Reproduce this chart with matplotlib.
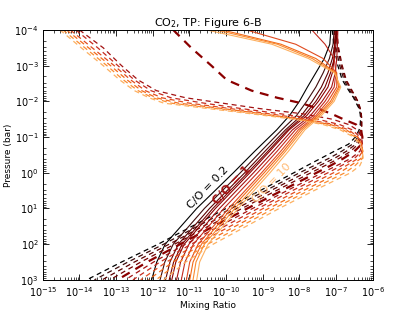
import numpy as np
import matplotlib
matplotlib.use("Agg")
import matplotlib.pyplot as plt
from matplotlib.ticker import LogLocator, NullFormatter

plt.rcParams['font.family'] = ['DejaVu Sans']
plt.rcParams['mathtext.fontset'] = 'dejavusans'

# C/O ratios of the model grid (black -> light orange)
co_ratios = [0.2, 0.4, 0.6, 0.8, 0.9, 1.0, 1.2, 1.5, 2.5, 5.0, 10.0]
colors = ['#000000', '#3d0c0c', '#5c0000', '#730000', '#8b0000', '#a31212',
          '#c42a1e', '#e04a1e', '#f26a1a', '#fa8c30', '#fdb060']

# log10 pressure (bar) grid for solid curves
logp_solid = [-4, -3.6, -3.2, -2.8, -2.4, -2.0, -1.6, -1.2, -0.6, 0, 1, 2, 2.5, 3]
# log10 CO2 mixing ratio, solid curves (one row per C/O)
solid_logx = [
    [-7.14, -7.17, -7.32, -7.55, -7.78, -8.0, -8.27, -8.62, -9.22, -9.8, -10.8, -11.66, -11.89, -12.03],
    [-7.05, -7.08, -7.18, -7.35, -7.55, -7.8, -8.08, -8.48, -9.05, -9.61, -10.59, -11.44, -11.67, -11.80],
    [-7.0, -7.03, -7.1, -7.22, -7.4, -7.65, -7.95, -8.38, -8.94, -9.49, -10.45, -11.30, -11.53, -11.65],
    [-6.97, -7.0, -7.05, -7.15, -7.3, -7.55, -7.87, -8.32, -8.86, -9.41, -10.36, -11.20, -11.43, -11.55],
    [-7.02, -7.04, -7.05, -7.1, -7.22, -7.48, -7.8, -8.28, -8.81, -9.35, -10.29, -11.14, -11.37, -11.48],
    [-6.95, -6.96, -6.98, -7.02, -7.12, -7.38, -7.7, -8.19, -8.71, -9.25, -10.18, -11.01, -11.24, -11.35],
    [-7.66, -7.3, -7.05, -7.0, -7.05, -7.3, -7.62, -8.11, -8.61, -9.14, -10.06, -10.89, -11.12, -11.22],
    [-9.44, -8.1, -7.35, -6.98, -6.98, -7.22, -7.55, -8.03, -8.51, -9.03, -9.93, -10.76, -10.99, -11.08],
    [-10.1, -8.5, -7.55, -7.0, -6.93, -7.15, -7.5, -7.97, -8.44, -8.96, -9.85, -10.67, -10.90, -10.99],
    [-10.27, -8.6, -7.65, -7.02, -6.9, -7.1, -7.45, -7.91, -8.38, -8.88, -9.76, -10.59, -10.82, -10.90],
    [-10.53, -8.75, -7.75, -7.05, -6.87, -7.05, -7.4, -7.85, -8.3, -8.8, -9.67, -10.49, -10.72, -10.8],
]

# log10 pressure (bar) grid for dashed curves
logp_dashed = [-4, -3.5, -3, -2.6, -2.3, -2.1, -1.95, -1.8, -1.65, -1.5, -1.35, -1.2,
               -1.0, -0.8, -0.6, -0.4, -0.2, 0, 0.5, 1, 1.5, 2, 2.5, 3]
dashed_logx = [
    [-7.1, -7.05, -6.95, -6.83, -6.65, -6.52, -6.45, -6.37, -6.34, -6.33, -6.34, -6.37, -6.47, -6.66, -7.05, -7.42, -7.79, -8.15, -9.07, -10.0, -10.93, -11.85, -12.85, -13.8],
    [-7.05, -7.0, -6.9, -6.78, -6.62, -6.5, -6.42, -6.36, -6.33, -6.32, -6.32, -6.33, -6.4, -6.55, -6.85, -7.2, -7.6, -7.995, -8.92, -9.855, -10.78, -11.70, -12.675, -13.59],
    [-7.0, -6.95, -6.86, -6.74, -6.58, -6.46, -6.39, -6.34, -6.31, -6.3, -6.3, -6.3, -6.34, -6.46, -6.72, -7.05, -7.45, -7.84, -8.78, -9.71, -10.63, -11.55, -12.5, -13.38],
    [-6.98, -6.93, -6.83, -6.72, -6.56, -6.45, -6.38, -6.34, -6.31, -6.3, -6.3, -6.3, -6.31, -6.4, -6.6, -6.92, -7.3, -7.685, -8.63, -9.565, -10.49, -11.40, -12.325, -13.17],
    [-11.44, -10.95, -10.4, -9.98, -9.3, -8.6, -7.95, -7.5, -7.12, -6.8, -6.45, -6.32, -6.28, -6.3, -6.5, -6.8, -7.15, -7.53, -8.48, -9.42, -10.34, -11.25, -12.15, -12.96],
    [-14.0, -13.35, -12.85, -12.4, -11.9, -11.1, -10.1, -9.1, -7.9, -7.1, -6.65, -6.42, -6.3, -6.28, -6.35, -6.6, -6.98, -7.375, -8.335, -9.275, -10.19, -11.10, -11.975, -12.75],
    [-14.1, -13.5, -12.95, -12.5, -12.05, -11.5, -10.6, -9.6, -8.5, -7.5, -6.9, -6.55, -6.35, -6.28, -6.3, -6.5, -6.85, -7.22, -8.19, -9.13, -10.04, -10.95, -11.8, -12.54],
    [-14.25, -13.65, -13.05, -12.6, -12.2, -11.75, -11.0, -9.9, -8.8, -7.8, -7.05, -6.65, -6.4, -6.3, -6.28, -6.4, -6.72, -7.065, -8.04, -8.985, -9.89, -10.80, -11.625, -12.33],
    [-14.35, -13.75, -13.15, -12.7, -12.3, -11.9, -11.3, -10.1, -9.0, -7.95, -7.15, -6.72, -6.42, -6.3, -6.27, -6.32, -6.6, -6.91, -7.89, -8.84, -9.75, -10.65, -11.45, -12.12],
    [-14.45, -13.85, -13.25, -12.8, -12.4, -12.0, -11.5, -10.3, -9.15, -8.05, -7.25, -6.8, -6.47, -6.32, -6.27, -6.28, -6.48, -6.755, -7.745, -8.695, -9.60, -10.5, -11.275, -11.91],
    [-14.53, -13.95, -13.35, -12.9, -12.5, -12.1, -11.7, -10.5, -9.3, -8.15, -7.35, -6.88, -6.52, -6.35, -6.28, -6.26, -6.35, -6.6, -7.6, -8.55, -9.45, -10.35, -11.1, -11.7],
]

title = "CO$_2$, TP: Figure 6-B"
xlabel = "Mixing Ratio"
ylabel = "Pressure (bar)"
xticks = [1e-15, 1e-14, 1e-13, 1e-12, 1e-11, 1e-10, 1e-9, 1e-8, 1e-7, 1e-6]
yticks = [1e-4, 1e-3, 1e-2, 1e-1, 1e0, 1e1, 1e2, 1e3]

fig = plt.figure(figsize=(4.15, 3.12), dpi=100)
ax = fig.add_axes([0.103, 0.103, 0.795, 0.801])

p_s = 10 ** np.array(logp_solid, dtype=float)
p_d = 10 ** np.array(logp_dashed, dtype=float)
for i, c in enumerate(colors):
    lw_s = 0.8
    lw_d = 1.6 if i == 4 else 0.9
    ax.plot(10 ** np.array(solid_logx[i]), p_s, color=c, lw=lw_s, ls='-')
    ax.plot(10 ** np.array(dashed_logx[i]), p_d, color=c, lw=lw_d, ls=(0, (4, 3)))

ax.set_xscale('log')
ax.set_yscale('log')
ax.set_xlim(1e-15, 1e-6)
ax.set_ylim(1e3, 1e-4)
ax.set_xticks(xticks)
ax.set_yticks(yticks)
ax.xaxis.set_minor_locator(LogLocator(base=10, subs=np.arange(2, 10), numticks=30))
ax.yaxis.set_minor_locator(LogLocator(base=10, subs=np.arange(2, 10), numticks=30))
ax.xaxis.set_minor_formatter(NullFormatter())
ax.yaxis.set_minor_formatter(NullFormatter())
ax.tick_params(which='both', direction='in', top=True, right=True, labelsize=7)
ax.tick_params(axis='x', pad=4)
ax.tick_params(axis='y', pad=3)
ax.tick_params(which='major', length=4, width=0.6)
ax.tick_params(which='minor', length=2, width=0.5)
for s in ax.spines.values():
    s.set_linewidth(0.7)

ax.set_title(title, fontsize=8, pad=3)
ax.set_xlabel(xlabel, fontsize=6.5, labelpad=1)
ax.set_ylabel(ylabel, fontsize=6.5, labelpad=1)

ax.text(10 ** -10.49, 10 ** 0.42, "C/O = 0.2", color=colors[0], rotation=46,
        fontsize=8, ha='center', va='center', zorder=5)
ax.text(10 ** -9.86, 10 ** 0.34, "C/O = 1", color=colors[5], rotation=46,
        fontsize=8.5, ha='center', va='center', fontweight='bold', zorder=5)
ax.text(10 ** -8.75, 10 ** 0.28, "C/O = 10", color='#ffb870', rotation=46,
        fontsize=8, ha='center', va='center', zorder=5)

fig.savefig("out.png", dpi=100)
